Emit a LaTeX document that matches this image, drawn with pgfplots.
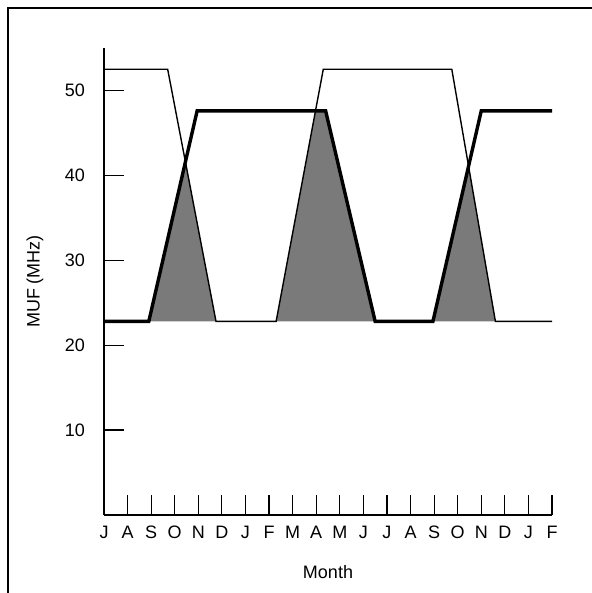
\documentclass[border=0pt]{standalone}
\usepackage{fontspec}
\setmainfont{Liberation Sans}
\usepackage{pgfplots}
\pgfplotsset{compat=1.18}
\begin{document}
\begin{tikzpicture}[x=1pt,y=1pt]
\useasboundingbox (0,0) rectangle (296,296.5);
\draw[line width=0.8pt] (4,-2) -- (4,292.5) -- (298,292.5);
\begin{axis}[
  at={(52pt,39pt)}, anchor=south west,
  scale only axis, width=224pt, height=233.5pt,
  xmin=0, xmax=19, ymin=0, ymax=55,
  axis lines*=left,
  axis line style={line width=0.9pt},
  clip=false,
  font=\fontsize{9}{11}\selectfont,
  /pgf/number format/assume math mode=true,
  xtick={0,...,19},
  xticklabels={J,A,S,O,N,D,J,F,M,A,M,J,J,A,S,O,N,D,J,F},
  ytick={10,20,30,40,50},
  tick align=inside,
  major tick length=10pt,
  tick style={line width=0.6pt, black},
  x tick label style={anchor=north, yshift=-2pt},
  y tick label style={anchor=east, xshift=-6pt},
  xlabel={Month},
  ylabel={MUF (MHz)},
  xlabel style={at={(axis description cs:0.5,-0.122)}, anchor=center},
  ylabel style={at={(axis description cs:-0.154,0.5)}, anchor=center, rotate=0},
]
\addplot[draw=none, fill=black!52] coordinates {(1.9,22.8) (3.45,41.6) (4.75,22.8)} -- cycle;
\addplot[draw=none, fill=black!52] coordinates {(7.3,22.8) (8.97,47.6) (9.4,47.6) (11.5,22.8)} -- cycle;
\addplot[draw=none, fill=black!52] coordinates {(13.95,22.8) (15.46,41.1) (16.6,22.8)} -- cycle;
\addplot[black, line width=0.7pt] coordinates {(0,52.5) (2.7,52.5) (4.75,22.8) (7.3,22.8) (9.3,52.5) (14.75,52.5) (16.6,22.8) (19,22.8)};
\addplot[black, line width=1.7pt] coordinates {(0,22.8) (1.9,22.8) (3.95,47.6) (9.4,47.6) (11.5,22.8) (13.95,22.8) (16,47.6) (19,47.6)};
\end{axis}
\end{tikzpicture}
\end{document}
